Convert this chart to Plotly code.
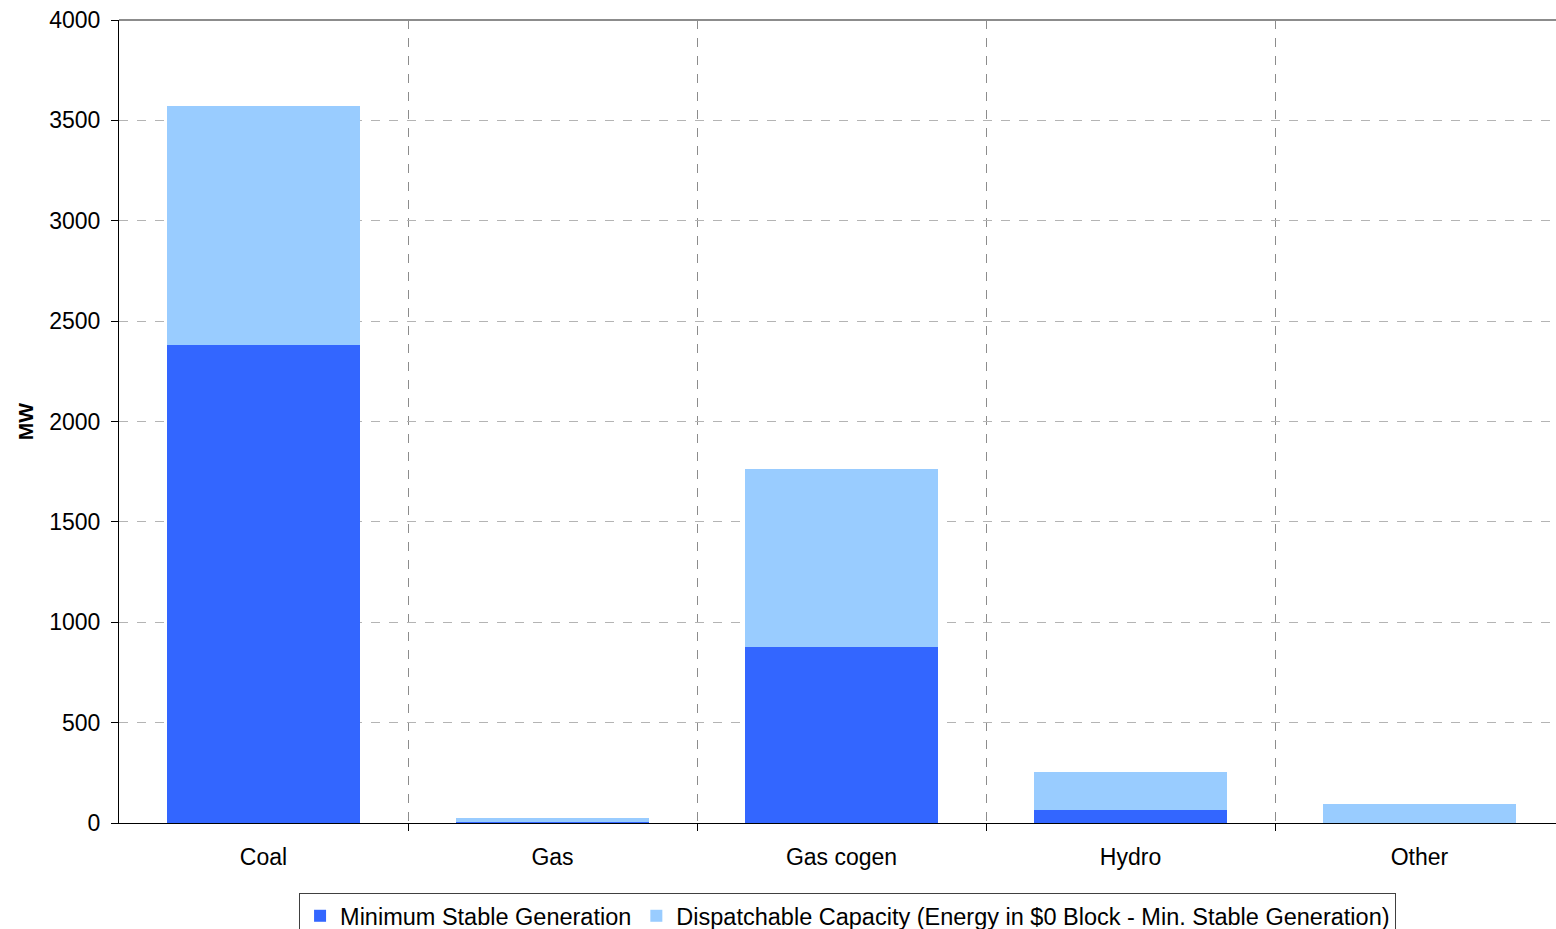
import plotly.graph_objects as go

categories = ["Coal", "Gas", "Gas cogen", "Hydro", "Other"]
min_stable = [2380, 4, 877, 65, 0]
dispatchable = [1192, 21, 886, 189, 95]
y_ticks = [0, 500, 1000, 1500, 2000, 2500, 3000, 3500, 4000]
series_names = ["Minimum Stable Generation",
                "Dispatchable Capacity (Energy in $0 Block - Min. Stable Generation)"]

FONT = "Liberation Sans, Arial, sans-serif"
xpos = list(range(len(categories)))
bounds = [i + 0.5 for i in xpos[:-1]]

fig = go.Figure()
fig.add_trace(go.Bar(x=xpos, y=min_stable, name=series_names[0],
                     marker=dict(color="#3366FF", line=dict(width=0))))
fig.add_trace(go.Bar(x=xpos, y=dispatchable, name=series_names[1],
                     marker=dict(color="#99CCFF", line=dict(width=0))))

fig.update_layout(
    barmode="stack",
    bargap=0.333,
    width=1556, height=929,
    margin=dict(l=119, r=0, t=20, b=106, autoexpand=False),
    paper_bgcolor="white", plot_bgcolor="white",
    font=dict(family=FONT, size=23, color="black"),
    showlegend=True,
    legend=dict(orientation="h", x=0.507, xanchor="center",
                yref="container", y=(929 - 893) / 929, yanchor="top",
                bordercolor="#404040", borderwidth=1, bgcolor="white",
                font=dict(family=FONT, size=23.5, color="black"),
                itemwidth=30, traceorder="normal"),
    xaxis=dict(
        range=[-0.5, -0.5 + 1437 / 289],
        tickmode="array", tickvals=xpos, ticktext=categories,
        ticks="outside", ticklen=13, tickcolor="rgba(0,0,0,0)",
        showgrid=False, zeroline=False,
        showline=True, linecolor="black", linewidth=1,
        tickfont=dict(family=FONT, size=23, color="black"),
        minor=dict(tickmode="array", tickvals=bounds, ticks="outside", ticklen=7,
                   tickcolor="black", tickwidth=1,
                   showgrid=True, gridcolor="#8c8c8c", gridwidth=1, griddash="dash"),
    ),
    yaxis=dict(
        range=[0, 4000],
        tickmode="array", tickvals=y_ticks,
        ticks="outside", ticklen=7, tickcolor="black",
        ticklabelstandoff=6,
        showgrid=True, gridcolor="#b4b4b4", gridwidth=1, griddash="dash",
        zeroline=False,
        showline=True, linecolor="black", linewidth=1,
        tickfont=dict(family=FONT, size=23, color="black"),
        title=dict(text="<b>MW</b>", standoff=9,
                   font=dict(family=FONT, size=21, color="black")),
    ),
    shapes=[dict(type="line", xref="paper", yref="paper", x0=0, x1=1, y0=1, y1=1,
                 line=dict(color="#8c8c8c", width=2))],
)

fig.write_html("out.html")
